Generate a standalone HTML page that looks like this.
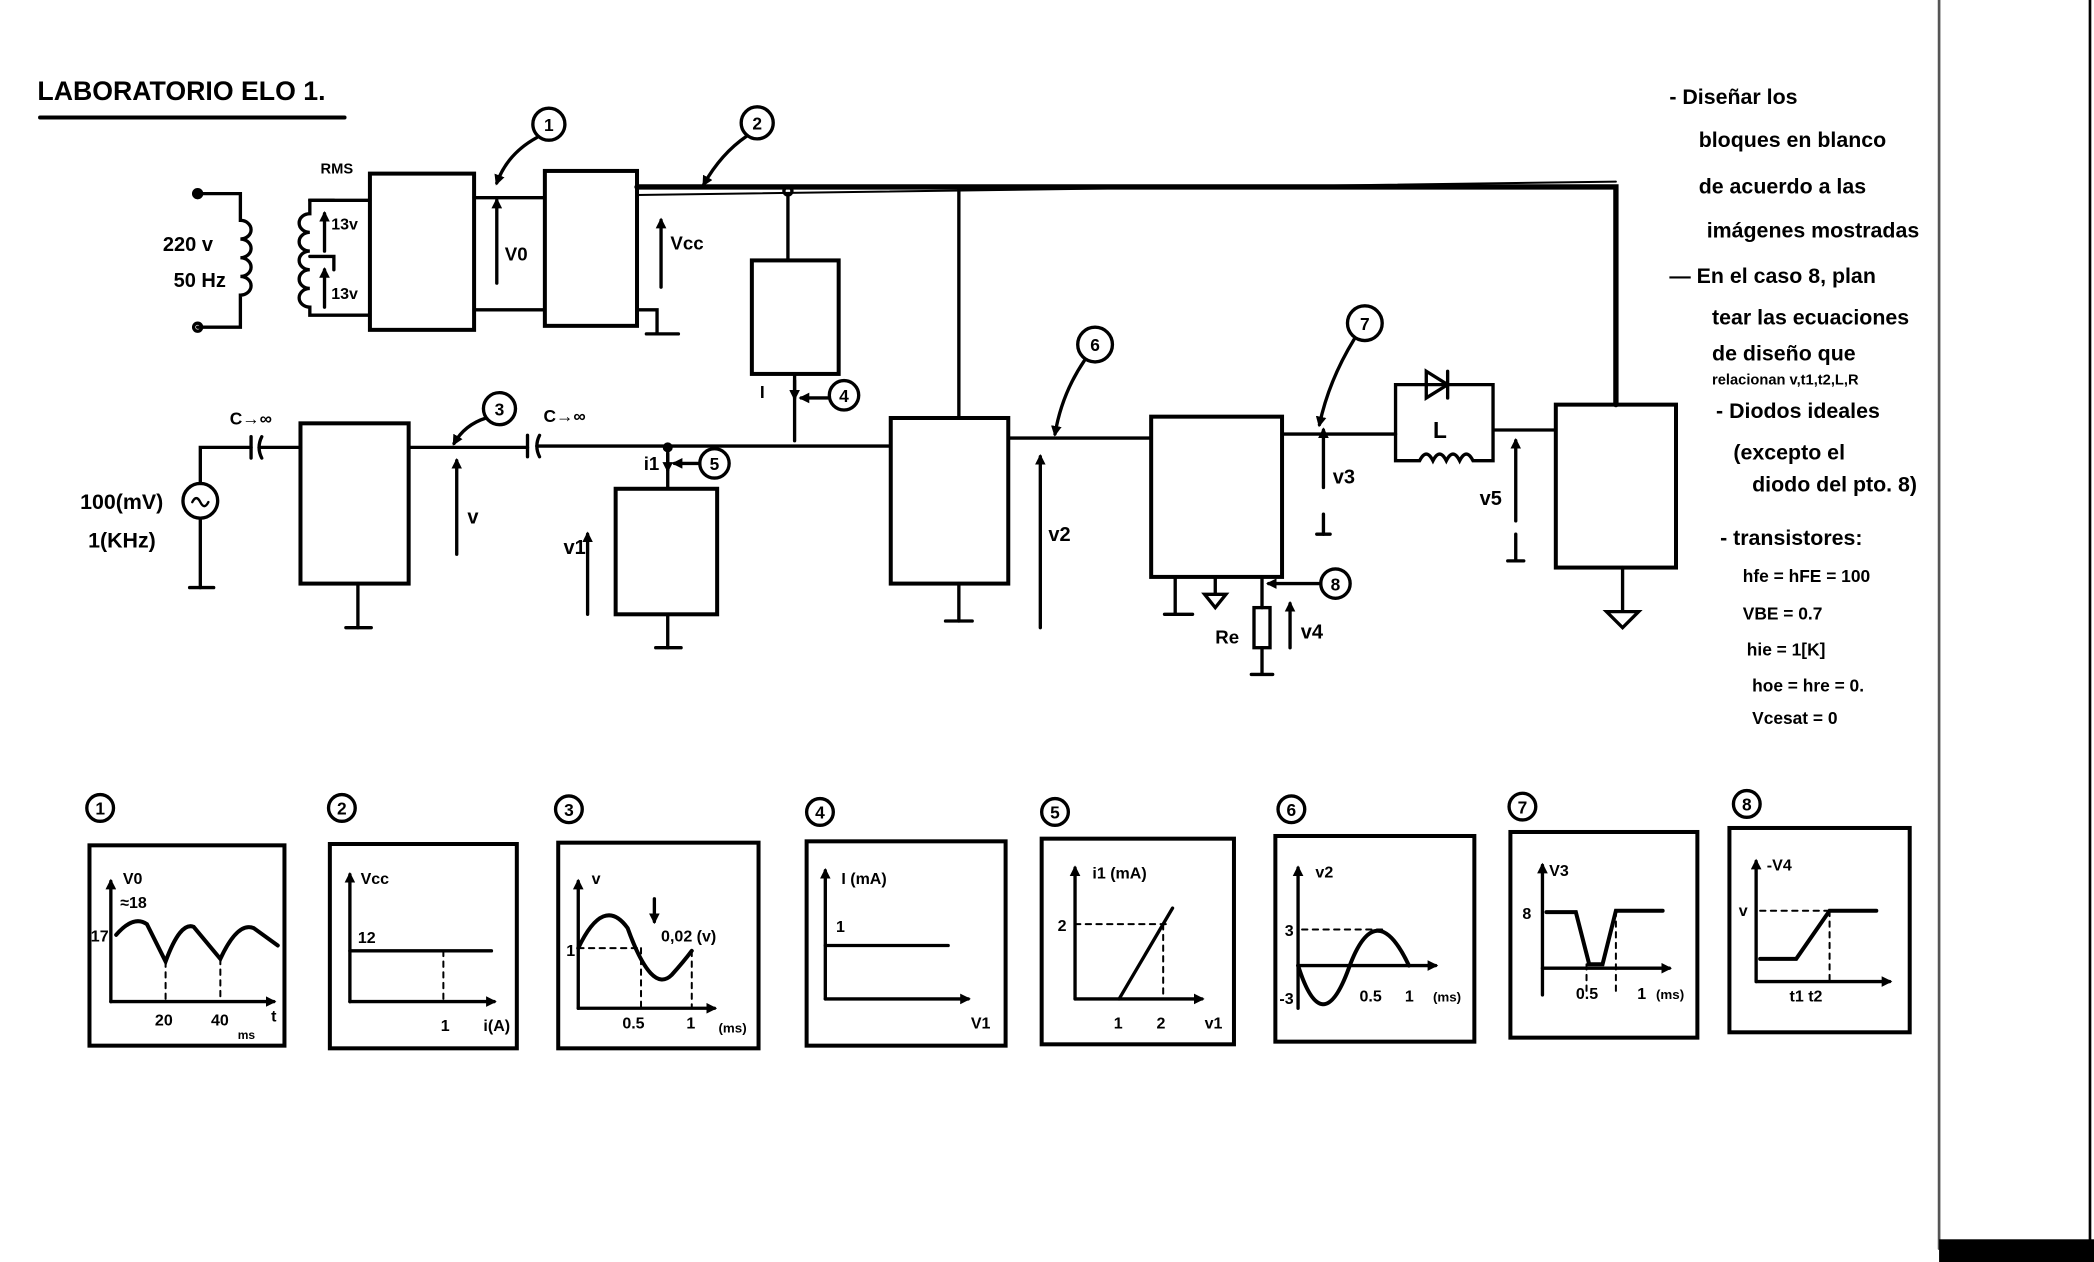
<!DOCTYPE html>
<html><head><meta charset="utf-8"><style>
html,body{margin:0;padding:0;background:#fff}
svg{display:block}
text{font-family:"Liberation Sans",sans-serif;font-weight:bold;fill:#000}
</style></head><body>
<svg width="2094" height="1262" viewBox="0 0 1568 945" preserveAspectRatio="none" xmlns="http://www.w3.org/2000/svg">
<defs><marker id="a" markerWidth="8" markerHeight="8" refX="6" refY="4" orient="auto" markerUnits="userSpaceOnUse"><path d="M0 0 L8 4 L0 8 Z" fill="#000"/></marker></defs>
<rect width="1568" height="945" fill="#fff"/>
<g stroke="#000" fill="none" stroke-width="2.5" stroke-linecap="round">
<line x1="30" y1="88" x2="258" y2="88" stroke-width="3"/>
<circle cx="148" cy="145" r="3" fill="#000"/><circle cx="148" cy="245" r="3"/>
<path d="M148 145 H180 V165 a8 7 0 0 1 0 14 a8 7 0 0 1 0 14 a8 7 0 0 1 0 14 a8 7 0 0 1 0 14 V245 H148"/>
<path d="M250 150 H232 V160 a-8 7 0 0 0 0 14 a-8 7 0 0 0 0 14 a-8 7 0 0 0 0 14 a-8 7 0 0 0 0 14 a-8 7 0 0 0 0 14 V236 H277"/>
<path d="M232 192 H250 V202"/>
<line x1="232" y1="150" x2="277" y2="150"/>
<g marker-end="url(#a)">
<line x1="243" y1="188" x2="243" y2="160"/><line x1="243" y1="230" x2="243" y2="202"/>
<line x1="372" y1="212" x2="372" y2="150"/>
<line x1="495" y1="215" x2="495" y2="165"/>
<line x1="342" y1="415" x2="342" y2="345"/>
<line x1="440" y1="460" x2="440" y2="400"/>
<line x1="779" y1="470" x2="779" y2="342"/>
<line x1="991" y1="365" x2="991" y2="322"/>
<line x1="1135" y1="390" x2="1135" y2="330"/>
<line x1="966" y1="485" x2="966" y2="452"/>
<path d="M402 103 Q380 115 372 137"/>
<path d="M559 102 Q540 115 527 138"/>
<path d="M364 313 Q348 318 340 332"/>
<path d="M621 298 H600"/>
<path d="M524 347 H505"/>
<path d="M812 270 Q795 295 790 325"/>
<path d="M1014 254 Q995 285 988 318"/>
<path d="M989 437 H950"/>
<path d="M595 285 V298"/><path d="M500 340 V352"/>
<path d="M83 750 V660"/><path d="M83 750 H205"/>
<path d="M262 750 V655"/><path d="M262 750 H370"/>
<path d="M433 755 V660"/><path d="M433 755 H535"/>
<path d="M618 748 V652"/><path d="M618 748 H725"/>
<path d="M805 748 V650"/><path d="M805 748 H900"/>
<path d="M972 755 V650"/><path d="M972 723 H1075"/>
<path d="M1155 745 V648"/><path d="M1155 725 H1250"/>
<path d="M1315 735 V645"/><path d="M1315 735 H1415"/>
<path d="M490 673 V690"/>
</g>
<rect x="277" y="130" width="78" height="117" stroke-width="3"/>
<rect x="408" y="128" width="69" height="116" stroke-width="3"/>
<line x1="355" y1="148" x2="408" y2="148"/><line x1="355" y1="232" x2="408" y2="232"/>
<path d="M477 232 H492 V250 M484 250 H508"/>
<path d="M477 140 H1210 V303" stroke-width="4"/>
<line x1="477" y1="146" x2="1210" y2="136" stroke-width="1.5"/>
<circle cx="590" cy="143" r="3"/>
<line x1="590" y1="146" x2="590" y2="195"/>
<rect x="563" y="195" width="65" height="85" stroke-width="3"/>
<line x1="595" y1="280" x2="595" y2="330"/>
<line x1="718" y1="140" x2="718" y2="313"/>
<rect x="667" y="313" width="88" height="124" stroke-width="3"/>
<line x1="718" y1="437" x2="718" y2="465"/><line x1="708" y1="465" x2="728" y2="465"/>
<circle cx="150" cy="375" r="13"/>
<path d="M144 376 q3 -6 6 0 q3 6 6 0" stroke-width="1.8"/>
<path d="M150 362 V335 H188 M194 335 H225"/>
<line x1="188" y1="327" x2="188" y2="343"/><path d="M196 327 q-4 8 0 16"/>
<line x1="150" y1="388" x2="150" y2="440"/><line x1="142" y1="440" x2="160" y2="440"/>
<rect x="225" y="317" width="81" height="120" stroke-width="3"/>
<line x1="268" y1="437" x2="268" y2="470"/><line x1="259" y1="470" x2="278" y2="470"/>
<path d="M306 335 H395 M402 334 H667"/>
<line x1="395" y1="326" x2="395" y2="342"/><path d="M404 326 q-4 8 0 16"/>
<circle cx="500" cy="335" r="2.5" fill="#000"/>
<line x1="500" y1="335" x2="500" y2="366"/>
<rect x="461" y="366" width="76" height="94" stroke-width="3"/>
<line x1="500" y1="460" x2="500" y2="485"/><line x1="491" y1="485" x2="510" y2="485"/>
<line x1="755" y1="328" x2="862" y2="328"/>
<rect x="862" y="312" width="98" height="120" stroke-width="3"/>
<path d="M880 432 V460 M872 460 H893"/>
<path d="M910 432 V445 M902 445 H918 L910 455 Z"/>
<path d="M945 432 V455"/><rect x="939" y="455" width="12" height="30"/><path d="M945 485 V505 M937 505 H953"/>
<line x1="960" y1="325" x2="1045" y2="325"/>
<line x1="991" y1="385" x2="991" y2="400"/><line x1="986" y1="400" x2="996" y2="400"/>
<path d="M1045 325 V288 H1118 V322 H1165 M1045 325 V345 H1063 q5 -10 10 0 q5 -10 10 0 q5 -10 10 0 q5 -10 10 0 H1118 V322"/>
<path d="M1068 278 L1084 288 L1068 298 Z M1084 278 V298"/>
<line x1="1135" y1="400" x2="1135" y2="420"/><line x1="1129" y1="420" x2="1141" y2="420"/>
<rect x="1165" y="303" width="90" height="122" stroke-width="3"/>
<path d="M1215 425 V458 M1203 458 H1227 L1215 470 Z"/>
<circle cx="411" cy="93" r="12"/>
<circle cx="567" cy="92" r="12"/>
<circle cx="374" cy="306" r="12"/>
<circle cx="632" cy="296" r="11"/>
<circle cx="535" cy="347" r="11"/>
<circle cx="820" cy="258" r="13"/>
<circle cx="1022" cy="242" r="13"/>
<circle cx="1000" cy="437" r="11"/>
<rect x="67" y="633" width="146" height="150" stroke-width="3"/>
<rect x="247" y="632" width="140" height="153" stroke-width="3"/>
<rect x="418" y="631" width="150" height="154" stroke-width="3"/>
<rect x="604" y="630" width="149" height="153" stroke-width="3"/>
<rect x="780" y="628" width="144" height="154" stroke-width="3"/>
<rect x="955" y="626" width="149" height="154" stroke-width="3"/>
<rect x="1131" y="623" width="140" height="154" stroke-width="3"/>
<rect x="1295" y="620" width="135" height="153" stroke-width="3"/>
<path d="M87 700 Q100 685 110 692 L124 720 Q135 690 145 694 L165 718 Q178 690 190 695 L208 708" stroke-width="3"/>
<path d="M124 720 V750 M165 718 V750" stroke-dasharray="4 4" stroke-width="1.5"/>
<path d="M262 712 H368"/>
<path d="M332 712 V750" stroke-dasharray="4 4" stroke-width="1.5"/>
<path d="M433 710 Q452 670 470 695 Q488 745 503 730 Q512 720 518 712" stroke-width="3"/>
<path d="M433 710 H480 M480 710 V755 M518 712 V755" stroke-dasharray="4 4" stroke-width="1.5"/>
<path d="M618 708 H710"/>
<path d="M838 748 L878 680"/>
<path d="M805 692 H875 M871 692 V748" stroke-dasharray="4 4" stroke-width="1.5"/>
<path d="M972 723 Q990 780 1010 725 Q1030 670 1055 723" stroke-width="3"/>
<path d="M975 696 H1038" stroke-dasharray="4 4" stroke-width="1.5"/>
<path d="M1158 683 H1180 L1190 722 H1200 L1210 682 H1245" stroke-width="3"/>
<path d="M1188 722 V745 M1210 682 V745" stroke-dasharray="4 4" stroke-width="1.5"/>
<path d="M1318 718 H1345 L1370 682 H1405" stroke-width="3"/>
<path d="M1318 682 H1370 M1370 682 V735" stroke-dasharray="4 4" stroke-width="1.5"/>
<circle cx="75" cy="605" r="10"/><circle cx="256" cy="605" r="10"/><circle cx="426" cy="606" r="10"/>
<circle cx="614" cy="608" r="10"/><circle cx="790" cy="608" r="10"/><circle cx="967" cy="606" r="10"/>
<circle cx="1140" cy="604" r="10"/><circle cx="1308" cy="602" r="10"/>
<line x1="1452" y1="0" x2="1452" y2="935" stroke-width="2" stroke="#555"/>
<line x1="1565" y1="0" x2="1565" y2="935" stroke-width="2"/>
</g>
<rect x="1452" y="928" width="116" height="17" fill="#000"/>
<g font-size="17">
<text x="28" y="75" font-size="20">LABORATORIO ELO 1.</text>
<text x="240" y="130" font-size="11">RMS</text>
<text x="122" y="188" font-size="15">220 v</text>
<text x="130" y="215" font-size="15">50 Hz</text>
<text x="248" y="172" font-size="12">13v</text><text x="248" y="224" font-size="12">13v</text>
<text x="378" y="195" font-size="14">V0</text>
<text x="502" y="187" font-size="14">Vcc</text>
<text x="172" y="318" font-size="13">C→∞</text><text x="407" y="316" font-size="13">C→∞</text>
<text x="60" y="381" font-size="16">100(mV)</text><text x="66" y="410" font-size="16">1(KHz)</text>
<text x="350" y="392" font-size="15">v</text>
<text x="422" y="415" font-size="15">v1</text>
<text x="482" y="352" font-size="14">i1</text>
<text x="569" y="298" font-size="13">I</text>
<text x="785" y="405" font-size="15">v2</text>
<text x="998" y="362" font-size="15">v3</text>
<text x="1108" y="378" font-size="15">v5</text>
<text x="1073" y="328" font-size="17">L</text>
<text x="910" y="482" font-size="14">Re</text>
<text x="974" y="478" font-size="15">v4</text>
<g font-size="13" text-anchor="middle">
<text x="411" y="98">1</text><text x="567" y="97">2</text><text x="374" y="311">3</text><text x="632" y="301">4</text>
<text x="535" y="352">5</text><text x="820" y="263">6</text><text x="1022" y="247">7</text><text x="1000" y="442">8</text>
<text x="75" y="610">1</text><text x="256" y="610">2</text><text x="426" y="611">3</text><text x="614" y="613">4</text>
<text x="790" y="613">5</text><text x="967" y="611">6</text><text x="1140" y="609">7</text><text x="1308" y="607">8</text>
</g>
<g font-size="12">
<text x="92" y="662">V0</text><text x="90" y="680">≈18</text><text x="68" y="705">17</text>
<text x="116" y="768">20</text><text x="158" y="768">40</text><text x="178" y="778" font-size="9">ms</text><text x="203" y="765">t</text>
<text x="270" y="662">Vcc</text><text x="268" y="706">12</text><text x="330" y="772">1</text><text x="362" y="772">i(A)</text>
<text x="443" y="662">v</text><text x="424" y="716">1</text><text x="495" y="705">0,02 (v)</text>
<text x="466" y="770">0.5</text><text x="514" y="770">1</text><text x="538" y="773" font-size="10">(ms)</text>
<text x="630" y="662">I (mA)</text><text x="626" y="698">1</text><text x="727" y="770">V1</text>
<text x="818" y="658">i1 (mA)</text><text x="792" y="697">2</text><text x="834" y="770">1</text><text x="866" y="770">2</text><text x="902" y="770">v1</text>
<text x="985" y="657">v2</text><text x="962" y="701">3</text><text x="958" y="752">-3</text><text x="1018" y="750">0.5</text><text x="1052" y="750">1</text><text x="1073" y="750" font-size="10">(ms)</text>
<text x="1160" y="656">V3</text><text x="1140" y="688">8</text><text x="1180" y="748">0.5</text><text x="1226" y="748">1</text><text x="1240" y="748" font-size="10">(ms)</text>
<text x="1323" y="652">-V4</text><text x="1302" y="686">v</text><text x="1340" y="750">t1  t2</text>
</g>
<g font-size="16">
<text x="1250" y="78">- Diseñar  los</text>
<text x="1272" y="110">bloques  en blanco</text>
<text x="1272" y="145">de acuerdo  a las</text>
<text x="1278" y="178">imágenes mostradas</text>
<text x="1250" y="212">— En el caso 8, plan</text>
<text x="1282" y="243">tear las ecuaciones</text>
<text x="1282" y="270">de diseño que</text>
<text x="1282" y="288" font-size="11">relacionan v,t1,t2,L,R</text>
<text x="1285" y="313">- Diodos ideales</text>
<text x="1298" y="344">(excepto el</text>
<text x="1312" y="368">diodo del pto. 8)</text>
<text x="1288" y="408">- transistores:</text>
<text x="1305" y="436" font-size="13">hfe = hFE = 100</text>
<text x="1305" y="464" font-size="13">VBE = 0.7</text>
<text x="1308" y="491" font-size="13">hie = 1[K]</text>
<text x="1312" y="518" font-size="13">hoe = hre = 0.</text>
<text x="1312" y="542" font-size="13">Vcesat = 0</text>
</g>
</g>
</svg>
</body></html>
